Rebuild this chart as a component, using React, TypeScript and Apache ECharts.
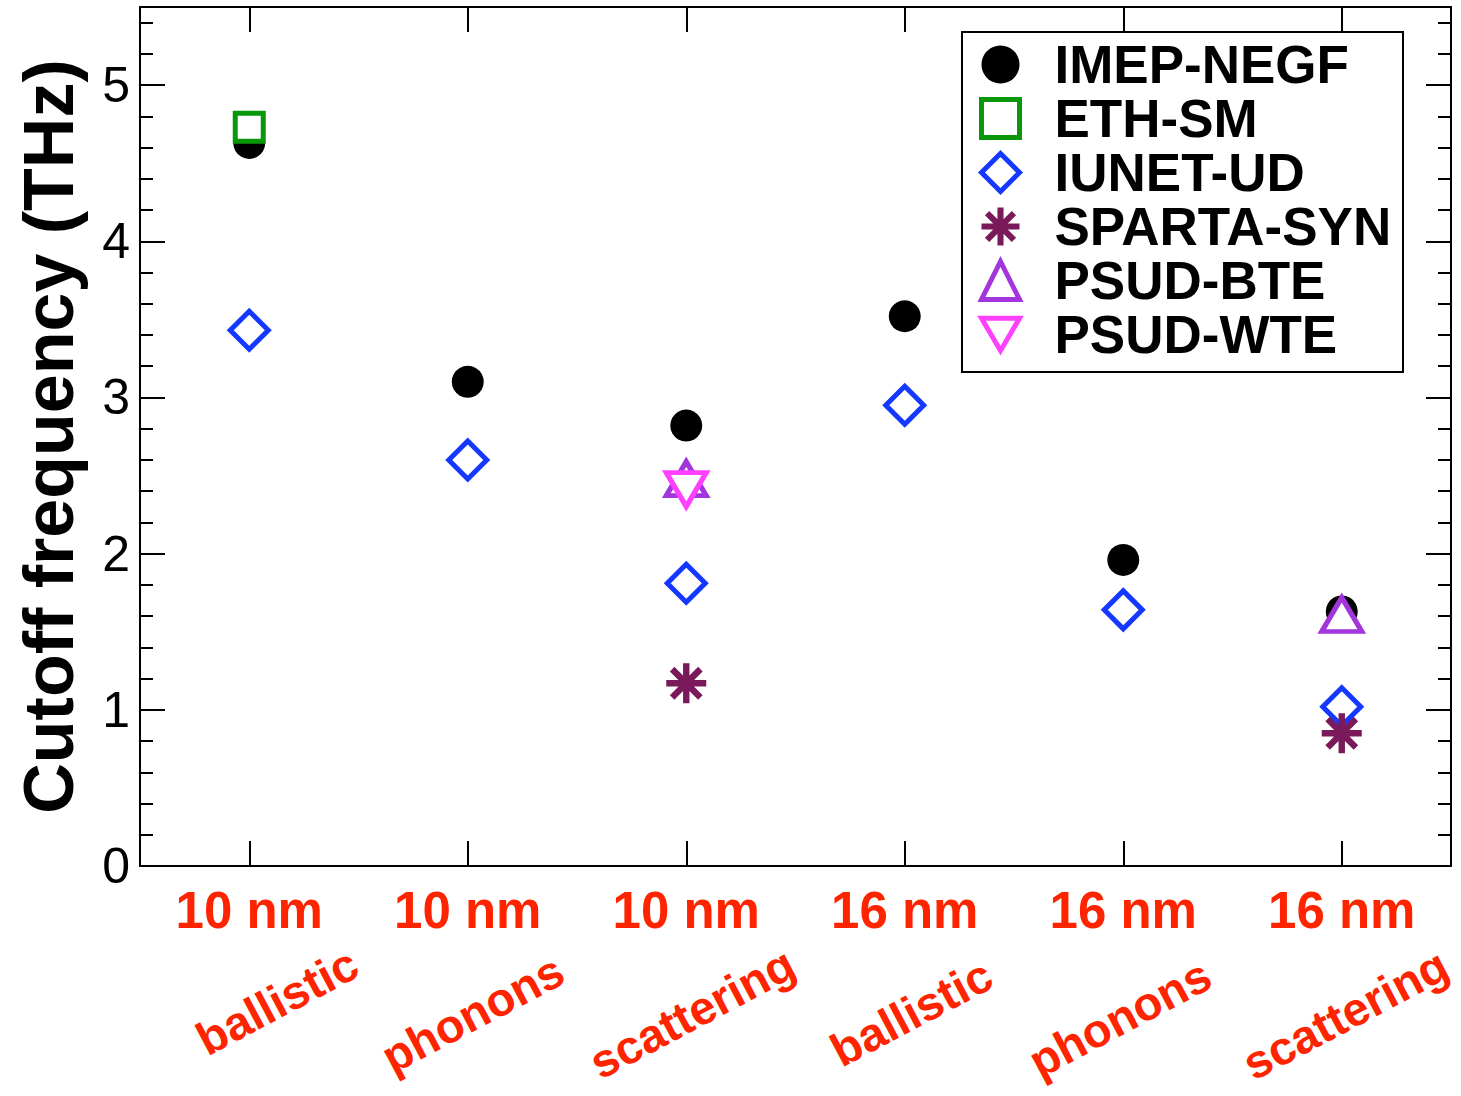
import { useEffect, useRef } from 'react';
import * as echarts from 'echarts';

// Device size / transport regime for each category
const sizes = ['10 nm', '10 nm', '10 nm', '16 nm', '16 nm', '16 nm'];
const regimes = ['ballistic', 'phonons', 'scattering', 'ballistic', 'phonons', 'scattering'];

// Cutoff frequency (THz) per simulator, one entry per category (null = not simulated)
const imepNegf = [4.63, 3.1, 2.82, 3.52, 1.96, 1.63];
const ethSm = [4.73, null, null, null, null, null];
const iunetUd = [3.43, 2.6, 1.81, 2.95, 1.64, 1.02];
const spartaSyn = [null, null, 1.17, null, null, 0.85];
const psudBte = [null, null, 2.48, null, null, 1.61];
const psudWte = [null, null, 2.41, null, null, null];

const seriesNames = ['IMEP-NEGF', 'ETH-SM', 'IUNET-UD', 'SPARTA-SYN', 'PSUD-BTE', 'PSUD-WTE'];

const yMin = 0;
const yMax = 5.5;
const yMajor = 1;
const yMinor = 0.2;

const FONT = '"Liberation Sans", Arial, Helvetica, sans-serif';
const RED = '#ff2400';
const GREEN = '#0a980a';
const BLUE = '#1438ff';
const MAROON = '#7a1a5a';
const VIOLET = '#a235dc';
const MAGENTA = '#ff40ff';

// slanted regime labels: extra padding along the text baseline
// (positive = leading padding, negative = trailing padding)
const regimeLabelPad = [63, 11, 13, 15, -8, 8];

// eight-armed asterisk built from four bars
const ASTERISK =
  'path://M-20,-3.2L20,-3.2L20,3.2L-20,3.2Z' +
  'M3.2,-20L3.2,20L-3.2,20L-3.2,-20Z' +
  'M-11.88,-16.4L16.4,11.88L11.88,16.4L-16.4,-11.88Z' +
  'M-16.4,11.88L11.88,-16.4L16.4,-11.88L-11.88,16.4Z';
const DOWN_TRIANGLE = 'path://M0,0L40,0L20,34Z';

const frameLine = { show: true, onZero: false, lineStyle: { color: '#000', width: 2 } };
const tickStyle = { color: '#000', width: 2 };

export default function App() {
  const ref = useRef<HTMLDivElement>(null);

  useEffect(() => {
    if (!ref.current) return;
    const chart = echarts.init(ref.current, null, { renderer: 'svg' });

    const yAxisBase = (position: string, interval: number, tickLen: number, withLabels: boolean) => ({
      type: 'value',
      position,
      min: yMin,
      max: yMax,
      interval,
      axisLine: withLabels || interval === yMajor ? frameLine : { show: false },
      axisTick: { show: true, inside: true, length: tickLen, lineStyle: tickStyle },
      axisLabel: withLabels
        ? {
            show: true,
            formatter: (v: number) => (Number.isInteger(v) ? String(v) : ''),
            fontSize: 50,
            color: '#000',
            margin: 10,
            fontFamily: FONT,
          }
        : { show: false },
      splitLine: { show: false },
    });

    const regimeRich: Record<string, any> = {};
    regimeLabelPad.forEach((p, i) => {
      regimeRich['r' + i] = {
        fontSize: 47,
        fontWeight: 'bold',
        color: RED,
        fontFamily: FONT,
        padding: p >= 0 ? [0, 0, 0, p] : [0, -p, 0, 0],
      };
    });

    const option = {
      animation: false,
      backgroundColor: '#fff',
      textStyle: { fontFamily: FONT },
      grid: {
        left: 140,
        right: 10,
        top: 7,
        bottom: 230,
        containLabel: false,
        outerBoundsMode: 'none',
      },
      legend: {
        orient: 'vertical',
        left: 979,
        top: 38,
        padding: 0,
        itemWidth: 38,
        itemHeight: 38,
        itemGap: 1,
        selectedMode: false,
        itemStyle: { borderWidth: 'inherit' },
        textStyle: {
          fontFamily: FONT,
          fontWeight: 'bold',
          fontSize: 53,
          color: '#000',
          padding: [0, 0, 0, 30],
        },
        data: seriesNames,
      },
      graphic: [
        {
          type: 'rect',
          shape: { x: 962, y: 32, width: 441, height: 340 },
          style: { fill: 'none', stroke: '#000', lineWidth: 2 },
          z: 1,
        },
      ],
      xAxis: [
        {
          type: 'category',
          data: sizes,
          position: 'bottom',
          boundaryGap: true,
          axisLine: frameLine,
          axisTick: { show: true, alignWithLabel: true, inside: true, length: 25, lineStyle: tickStyle },
          axisLabel: {
            interval: 0,
            fontSize: 51,
            fontWeight: 'bold',
            color: RED,
            margin: 19,
            lineHeight: 51,
            fontFamily: FONT,
          },
          splitLine: { show: false },
        },
        {
          type: 'category',
          data: regimes,
          position: 'bottom',
          boundaryGap: true,
          axisLine: { show: false },
          axisTick: { show: false },
          axisLabel: {
            interval: 0,
            rotate: 28,
            align: 'center',
            verticalAlign: 'middle',
            margin: 150,
            fontSize: 47,
            fontWeight: 'bold',
            color: RED,
            fontFamily: FONT,
            formatter: (value: string, index: number) => `{r${index}|${value}}`,
            rich: regimeRich,
          },
          splitLine: { show: false },
        },
        {
          type: 'category',
          data: sizes,
          position: 'top',
          boundaryGap: true,
          axisLine: frameLine,
          axisTick: { show: true, alignWithLabel: true, inside: true, length: 25, lineStyle: tickStyle },
          axisLabel: { show: false },
          splitLine: { show: false },
        },
      ],
      yAxis: [
        {
          ...yAxisBase('left', yMajor, 25, true),
          name: 'Cutoff frequency (THz)',
          nameLocation: 'middle',
          nameGap: 56,
          nameTextStyle: { fontSize: 70, fontWeight: 'bold', color: '#000', fontFamily: FONT },
        },
        yAxisBase('left', yMinor, 13, false),
        yAxisBase('right', yMajor, 25, false),
        yAxisBase('right', yMinor, 13, false),
      ],
      series: [
        {
          name: 'IMEP-NEGF',
          type: 'scatter',
          data: imepNegf,
          symbol: 'circle',
          symbolSize: 32,
          itemStyle: { color: '#000', borderWidth: 0, opacity: 1 },
        },
        {
          name: 'ETH-SM',
          type: 'scatter',
          data: ethSm,
          symbol: 'rect',
          symbolSize: 28,
          itemStyle: { color: '#fff', borderColor: GREEN, borderWidth: 5, opacity: 1 },
        },
        {
          name: 'IUNET-UD',
          type: 'scatter',
          data: iunetUd,
          symbol: 'diamond',
          symbolSize: 38,
          itemStyle: { color: '#fff', borderColor: BLUE, borderWidth: 5, opacity: 1 },
        },
        {
          name: 'SPARTA-SYN',
          type: 'scatter',
          data: spartaSyn,
          symbol: ASTERISK,
          symbolSize: 40,
          itemStyle: { color: MAROON, borderWidth: 0, opacity: 1 },
        },
        {
          name: 'PSUD-BTE',
          type: 'scatter',
          data: psudBte,
          symbol: 'triangle',
          symbolSize: [40, 34],
          itemStyle: { color: '#fff', borderColor: VIOLET, borderWidth: 5, opacity: 1 },
        },
        {
          name: 'PSUD-WTE',
          type: 'scatter',
          data: psudWte,
          symbol: DOWN_TRIANGLE,
          symbolSize: [40, 34],
          itemStyle: { color: '#fff', borderColor: MAGENTA, borderWidth: 5, opacity: 1 },
        },
      ],
    };

    chart.setOption(option as any);
    return () => chart.dispose();
  }, []);

  return (
    <div
      ref={ref}
      style={{ position: 'absolute', left: 0, top: 0, width: 1461, height: 1096, background: '#fff' }}
    />
  );
}
